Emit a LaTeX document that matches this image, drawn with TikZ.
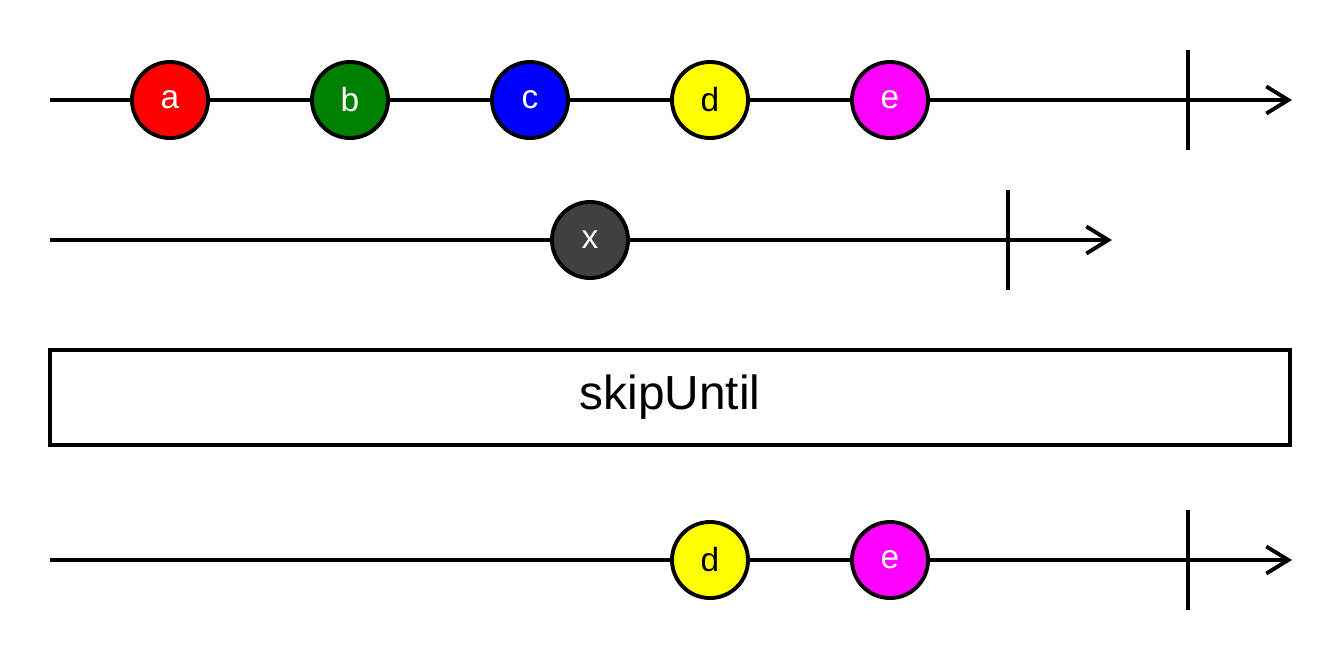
\documentclass[tikz,border=0pt]{standalone}
\usepackage{fontspec}
\setmainfont{Liberation Sans}
\usetikzlibrary{arrows.meta}
\definecolor{marbledark}{HTML}{404040}
\definecolor{marblegreen}{HTML}{008000}
\definecolor{marblered}{HTML}{FF0000}
\definecolor{marbleblue}{HTML}{0000FF}
\definecolor{marbleyellow}{HTML}{FFFF00}
\definecolor{marblemagenta}{HTML}{FF00FF}

\begin{document}
\begin{tikzpicture}[x=0.01cm, y=-0.01cm, line width=1.1pt,
    timeline/.style={draw, -{Straight Barb[length=0.22cm, width=0.27cm, line width=1.1pt]}},
    marble/.style={circle, draw, line width=1.1pt, minimum size=0.76cm, inner sep=0pt, font=\fontsize{9.5}{11}\selectfont}]
    \useasboundingbox (0,0) rectangle (1340,660);

    % 输入流 1
    \coordinate (s1) at (50,100);
    \coordinate (e1) at (1292,100);
    \draw[timeline] (s1) -- (e1);
    \coordinate (t1a) at (1188,50);
    \coordinate (t1b) at (1188,150);
    \draw (t1a) -- (t1b);
    \foreach \name/\x/\col/\txt in {a/170/marblered/white, b/350/marblegreen/white, c/530/marbleblue/white, d/710/marbleyellow/black, e/890/marblemagenta/white}
        \node[marble, fill=\col, text=\txt] (in\name) at (\x,100) {\name};

    % 输入流 2 (通知流)
    \coordinate (s2) at (50,240);
    \coordinate (e2) at (1112,240);
    \draw[timeline] (s2) -- (e2);
    \coordinate (t2a) at (1008,190);
    \coordinate (t2b) at (1008,290);
    \draw (t2a) -- (t2b);
    \node[marble, fill=marbledark, text=white] (inx) at (590,240) {x};

    % 操作符
    \node[draw, line width=1.1pt, minimum width=12.4cm, minimum height=0.95cm, inner sep=0pt,
          font=\fontsize{13.6}{16}\selectfont] (op) at (670,397.5) {skipUntil};

    % 输出流
    \coordinate (s3) at (50,560);
    \coordinate (e3) at (1292,560);
    \draw[timeline] (s3) -- (e3);
    \coordinate (t3a) at (1188,510);
    \coordinate (t3b) at (1188,610);
    \draw (t3a) -- (t3b);
    \foreach \name/\x/\col/\txt in {d/710/marbleyellow/black, e/890/marblemagenta/white}
        \node[marble, fill=\col, text=\txt] (out\name) at (\x,560) {\name};
\end{tikzpicture}
\end{document}
